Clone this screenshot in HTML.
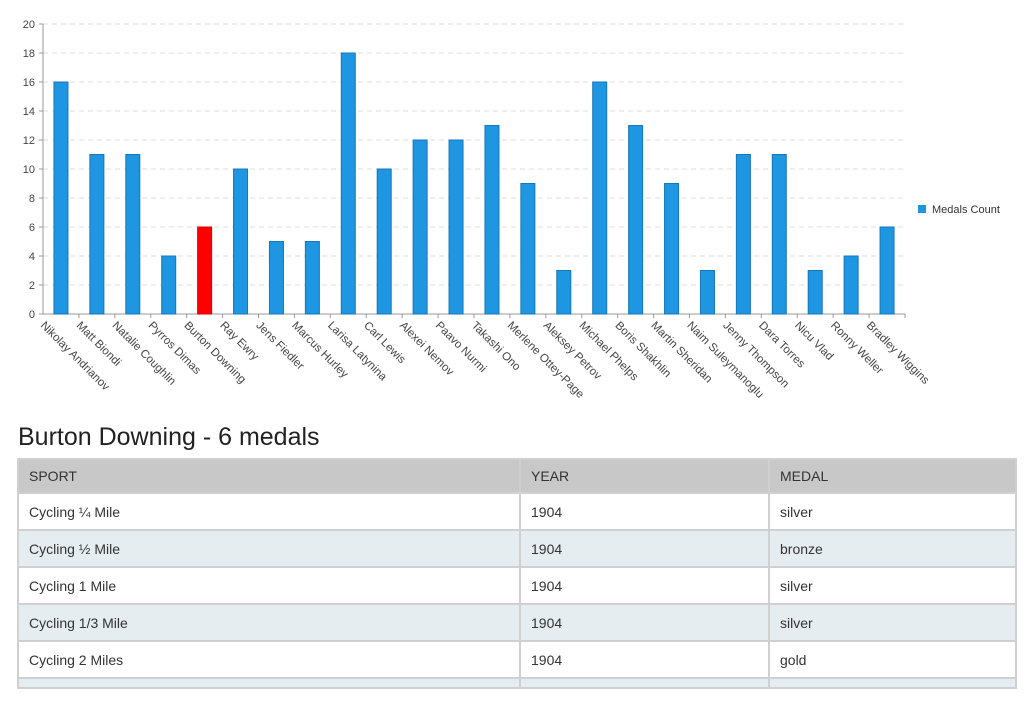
<!DOCTYPE html>
<html><head><meta charset="utf-8"><style>
body{margin:0;background:#fff;font-family:"Liberation Sans",sans-serif;width:1031px;height:707px;overflow:hidden;position:relative}
#chart{position:absolute;left:0;top:0}
h2{position:absolute;left:18px;top:423px;margin:0;font-weight:normal;font-size:25px;color:#222}
table{position:absolute;left:17px;top:458px;width:1000px;border-collapse:collapse;font-size:14px;color:#333}
td,th{border:2px solid #d0d0d0;padding:0 10px;text-align:left;font-weight:normal;height:35px}
th{background:#c8c8c8;height:32px}
tr.alt td{background:#e5edf0}
tr.last td{height:8px;padding:0;font-size:0;line-height:0}
</style></head><body>
<svg id="chart" width="1031" height="410"></svg>
<h2>Burton Downing - 6 medals</h2>
<table>
<tr><th style="width:480px">SPORT</th><th style="width:227px">YEAR</th><th>MEDAL</th></tr>
<tr><td>Cycling ¼ Mile</td><td>1904</td><td>silver</td></tr>
<tr class="alt"><td>Cycling ½ Mile</td><td>1904</td><td>bronze</td></tr>
<tr><td>Cycling 1 Mile</td><td>1904</td><td>silver</td></tr>
<tr class="alt"><td>Cycling 1/3 Mile</td><td>1904</td><td>silver</td></tr>
<tr><td>Cycling 2 Miles</td><td>1904</td><td>gold</td></tr>
<tr class="alt last"><td></td><td></td><td></td></tr>
</table>
<script>
const categories=["Nikolay Andrianov","Matt Biondi","Natalie Coughlin","Pyrros Dimas","Burton Downing","Ray Ewry","Jens Fiedler","Marcus Hurley","Larisa Latynina","Carl Lewis","Alexei Nemov","Paavo Nurmi","Takashi Ono","Merlene Ottey-Page","Aleksey Petrov","Michael Phelps","Boris Shakhlin","Martin Sheridan","Naim Suleymanoglu","Jenny Thompson","Dara Torres","Nicu Vlad","Ronny Weller","Bradley Wiggins"];
const medals=[16,11,11,4,6,10,5,5,18,10,12,12,13,9,3,16,13,9,3,11,11,3,4,6];
const yTicks=[0,2,4,6,8,10,12,14,16,18,20];
const selected="Burton Downing";
const svg=document.getElementById('chart');const NS='http://www.w3.org/2000/svg';
const X0=43,X1=905,Y0=314,Y1=24,band=(X1-X0)/categories.length;
const y=v=>Y0-(v/20)*(Y0-Y1);const xc=i=>X0+band*(i+0.5);
function mk(t,a,p){const e=document.createElementNS(NS,t);for(const k in a)e.setAttribute(k,a[k]);(p||svg).appendChild(e);return e;}
yTicks.forEach(v=>{
 if(v>0){const g=mk('line',{x1:X0,x2:X1,y1:y(v),y2:y(v),stroke:'#ddd','stroke-dasharray':'5,4'});
 
 }
 const t=mk('text',{x:X0-8,y:y(v)+4,'text-anchor':'end','font-size':'11',fill:'#444'});t.textContent=v;
 
 
 mk('line',{x1:X0-4,x2:X0,y1:y(v),y2:y(v),stroke:'#999'});
});
mk('line',{x1:X0,x2:X0,y1:Y1,y2:Y0,stroke:'#999'});
mk('line',{x1:X0,x2:X1,y1:Y0,y2:Y0,stroke:'#999'});
categories.forEach((c,i)=>{
 const tx=X0+band*(i+1);mk('line',{x1:tx,x2:tx,y1:Y0,y2:Y0+4,stroke:'#999'});
 const sel=c===selected;
 const b=mk('rect',{x:xc(i)-7,y:y(medals[i]),width:14,height:Y0-y(medals[i]),fill:sel?'#ff0000':'#1e96e2',stroke:sel?'#d00':'#1577b8','stroke-width':1});
 
 
 const lx=xc(i)-21,ly=Y0+12;
 const t=mk('text',{x:lx,y:ly,'font-size':'11.5',fill:'#444',transform:`rotate(45 ${lx} ${ly})`});t.textContent=c;
 
 
});
const lg=mk('rect',{x:918,y:205,width:8,height:8,fill:'#1e96e2'});


const lt=mk('text',{x:932,y:213,'font-size':'11',fill:'#333'});lt.textContent='Medals Count';


</script>
</body></html>
